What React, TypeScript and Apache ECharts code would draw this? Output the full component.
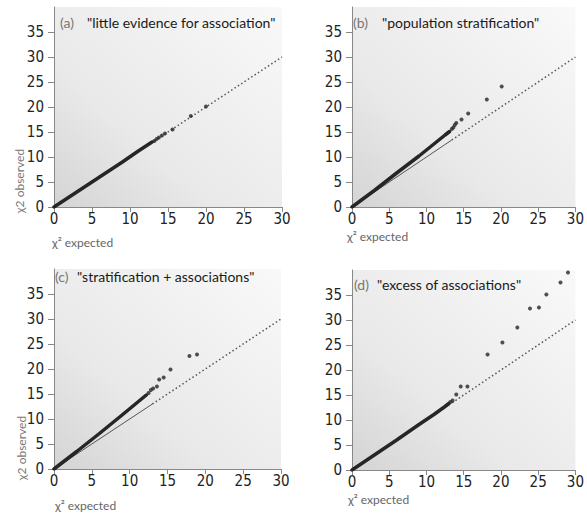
import React, { useEffect, useRef } from "react";
import * as echarts from "echarts";

const tickValues = [0, 5, 10, 15, 20, 25, 30, 35];
const xMax = 30;
const yMax = 40;
const refLineEnd = 30;

const panelTitles = ["(a)", "(b)", "(c)", "(d)"];
const panelQuotes = [
  '"little evidence for association"',
  '"population stratification"',
  '"stratification + associations"',
  '"excess of associations"',
];

const solidRefEnds = [13.2, 13.4, 13.0, 13.0];

const denseA = [[0, 0], [3, 3], [6, 6], [9, 9], [11, 11.1], [12.3, 12.4], [12.9, 13.0]];
const tailA = [[13.2, 13.2], [13.5, 13.6], [13.8, 13.9], [14.2, 14.3], [14.6, 14.7], [15.6, 15.5], [18.0, 18.2], [20.0, 20.1]];

const denseB = [[0, 0], [3, 3.3], [6, 6.8], [9, 10.2], [10, 11.4], [11, 12.6], [12.5, 14.4], [13.1, 15.1]];
const tailB = [[13.4, 15.6], [13.6, 15.9], [13.8, 16.4], [14.0, 16.8], [14.7, 17.5], [15.6, 18.7], [18.1, 21.5], [20.1, 24.1]];

const denseC = [[0, 0], [3, 3.5], [6, 7.1], [9, 10.8], [11, 13.3], [12.2, 14.8]];
const tailC = [[12.5, 15.2], [12.8, 15.8], [13.1, 16.1], [13.6, 16.5], [13.9, 17.9], [14.5, 18.3], [15.4, 19.9], [17.9, 22.6], [18.9, 22.9]];

const denseD = [[0, 0], [3, 3], [6, 6], [9, 9.1], [11, 11.1], [12.4, 12.6], [13.0, 13.3]];
const tailD = [[13.2, 13.6], [13.5, 13.9], [14.0, 15.1], [14.6, 16.7], [15.5, 16.7], [18.2, 23.1], [20.2, 25.5], [22.2, 28.5], [23.9, 32.3], [25.1, 32.5], [26.1, 35.1], [28.0, 37.5], [29.0, 39.5]];

const denseAll = [denseA, denseB, denseC, denseD];
const tailAll = [tailA, tailB, tailC, tailD];

const gridBoxes = [
  { left: 54, top: 7, width: 228, height: 200 },
  { left: 352, top: 7, width: 227, height: 200 },
  { left: 54, top: 269, width: 227, height: 200 },
  { left: 352, top: 270, width: 227, height: 200 },
];
const titlePos = [
  { x: 60, y: 22, qx: 87 },
  { x: 353, y: 22, qx: 382 },
  { x: 55, y: 276, qx: 77 },
  { x: 354, y: 284, qx: 377 },
];
const xNamePos = [
  { x: 52, y: 242 },
  { x: 347, y: 236 },
  { x: 55, y: 505 },
  { x: 348, y: 499 },
];
const yNamePos = [
  { x: 19, y: 181 },
  null,
  { x: 21, y: 448 },
  null,
];

const axisFont = "'DejaVu Sans Condensed', 'Liberation Sans Narrow', 'DejaVu Sans', sans-serif";
const textFont = "Lato, 'Open Sans', sans-serif";

export default function App() {
  const ref = useRef<HTMLDivElement>(null);
  useEffect(() => {
    if (!ref.current) return;
    const chart = echarts.init(ref.current, null, { renderer: "svg" });
    const bg = {
      type: "linear",
      x: 0,
      y: 1,
      x2: 1,
      y2: 0,
      colorStops: [
        { offset: 0, color: "#d4d4d4" },
        { offset: 0.35, color: "#e9e9e9" },
        { offset: 1, color: "#f9f9f9" },
      ],
    };
    const grids = gridBoxes.map((g) => ({
      ...g,
      show: true,
      borderWidth: 0,
      backgroundColor: bg,
    }));
    const xAxes = gridBoxes.map((_, i) => ({
      type: "value",
      gridIndex: i,
      min: 0,
      max: xMax,
      interval: 5,
      axisLine: { show: true, onZero: false, lineStyle: { color: "#888", width: 1 } },
      axisTick: { show: true, length: 5, lineStyle: { color: "#888" } },
      axisLabel: { fontSize: 15, color: "#222", fontFamily: axisFont, margin: 4 },
      splitLine: { show: false },
    }));
    const yAxes = gridBoxes.map((_, i) => ({
      type: "value",
      gridIndex: i,
      min: 0,
      max: yMax,
      interval: 5,
      axisLine: { show: true, onZero: false, lineStyle: { color: "#888", width: 1 } },
      axisTick: { show: true, length: 6, lineStyle: { color: "#888" }, customValues: tickValues },
      axisLabel: { fontSize: 15, color: "#222", fontFamily: axisFont, margin: 10, customValues: tickValues },
      splitLine: { show: false },
    }));
    const series: any[] = [];
    for (let i = 0; i < 4; i++) {
      const e = solidRefEnds[i];
      series.push({
        type: "line",
        xAxisIndex: i,
        yAxisIndex: i,
        data: [[0, 0], [e, e]],
        showSymbol: false,
        lineStyle: { color: "#555", width: 1 },
        z: 2,
      });
      series.push({
        type: "line",
        xAxisIndex: i,
        yAxisIndex: i,
        data: [[e, e], [refLineEnd, refLineEnd]],
        showSymbol: false,
        lineStyle: { color: "#555", width: 1.5, type: [1.5, 2.5] },
        z: 2,
      });
      series.push({
        type: "line",
        xAxisIndex: i,
        yAxisIndex: i,
        data: denseAll[i],
        showSymbol: false,
        lineStyle: { color: "#262626", width: 3.5, cap: "round" },
        z: 3,
      });
      series.push({
        type: "scatter",
        xAxisIndex: i,
        yAxisIndex: i,
        data: tailAll[i],
        symbolSize: 4,
        itemStyle: { color: "#262626" },
        z: 4,
      });
    }
    const graphic: any[] = [];
    for (let i = 0; i < 4; i++) {
      const t = titlePos[i];
      graphic.push({
        type: "text",
        x: t.x,
        y: t.y,
        style: { text: panelTitles[i], fill: "#777", font: `14px ${textFont}`, textVerticalAlign: "middle" },
        z: 10,
      });
      graphic.push({
        type: "text",
        x: t.qx,
        y: t.y,
        style: { text: panelQuotes[i], fill: "#1a1a1a", font: `14px ${textFont}`, textVerticalAlign: "middle" },
        z: 10,
      });
      const xn = xNamePos[i];
      graphic.push({
        type: "text",
        x: xn.x,
        y: xn.y,
        style: { text: "χ² expected", fill: "#666", font: `12px ${textFont}`, textVerticalAlign: "middle" },
        z: 10,
      });
      const yn = yNamePos[i];
      if (yn) {
        graphic.push({
          type: "text",
          x: yn.x,
          y: yn.y,
          rotation: Math.PI / 2,
          style: {
            text: "χ2 observed",
            fill: "#777",
            font: `12px ${textFont}`,
            textAlign: "center",
            textVerticalAlign: "middle",
          },
          z: 10,
        });
      }
    }
    chart.setOption({
      animation: false,
      backgroundColor: "#ffffff",
      grid: grids,
      xAxis: xAxes,
      yAxis: yAxes,
      series,
      graphic,
    });
    return () => chart.dispose();
  }, []);
  return (
    <div
      ref={ref}
      style={{ position: "fixed", left: 0, top: 0, width: 587, height: 516 }}
    />
  );
}
